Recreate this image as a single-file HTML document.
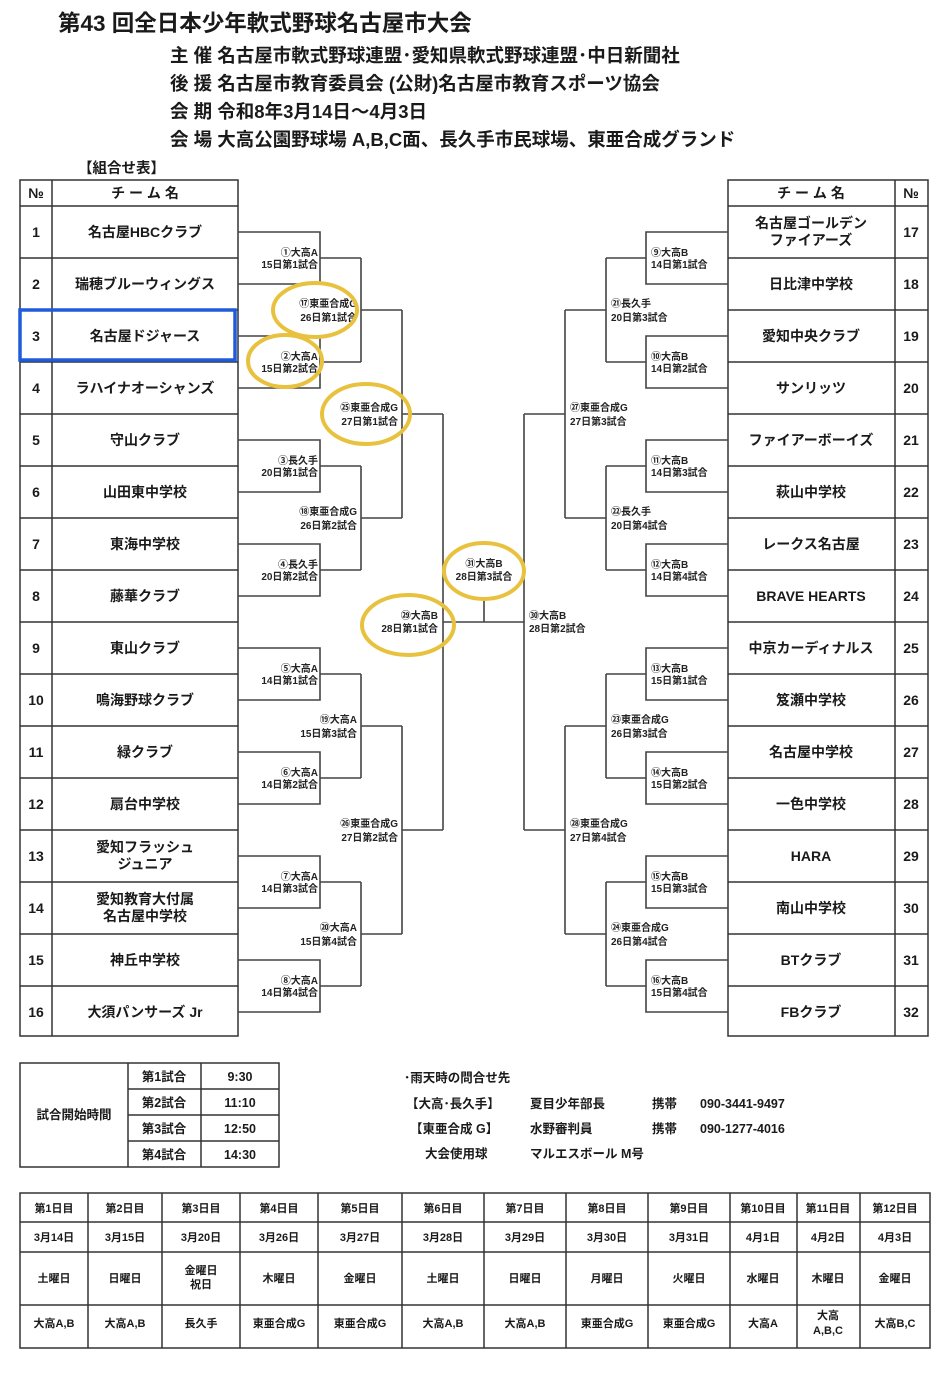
<!DOCTYPE html>
<html><head><meta charset="utf-8">
<style>
html,body{margin:0;padding:0;background:#fff;}
svg{display:block;font-family:"Liberation Sans","Noto Sans CJK JP",sans-serif;font-weight:bold;}
</style></head>
<body>
<svg width="941" height="1375" viewBox="0 0 941 1375" xmlns="http://www.w3.org/2000/svg">
<rect width="941" height="1375" fill="#fff"/>
<g fill="#1a1a1a">
<text x="58" y="31" font-size="22.5">第43 回全日本少年軟式野球名古屋市大会</text>
<text x="170" y="62" font-size="18.5">主 催  名古屋市軟式野球連盟･愛知県軟式野球連盟･中日新聞社</text>
<text x="170" y="90" font-size="18.5">後 援  名古屋市教育委員会  (公財)名古屋市教育スポーツ協会</text>
<text x="170" y="118" font-size="18.5">会 期  令和8年3月14日～4月3日</text>
<text x="170" y="146" font-size="18.5">会 場  大高公園野球場 A,B,C面、長久手市民球場、東亜合成グランド</text>
<text x="78" y="173" font-size="14.5">【組合せ表】</text>
</g>

<!-- left table -->
<g stroke="#333" stroke-width="1.5" fill="none">
<rect x="20" y="180" width="218" height="856"/>
<line x1="52" y1="180" x2="52" y2="1036"/>
<line x1="20" y1="206" x2="238" y2="206"/>
<line x1="20" y1="258" x2="238" y2="258"/><line x1="20" y1="310" x2="238" y2="310"/>
<line x1="20" y1="362" x2="238" y2="362"/><line x1="20" y1="414" x2="238" y2="414"/>
<line x1="20" y1="466" x2="238" y2="466"/><line x1="20" y1="518" x2="238" y2="518"/>
<line x1="20" y1="570" x2="238" y2="570"/><line x1="20" y1="622" x2="238" y2="622"/>
<line x1="20" y1="674" x2="238" y2="674"/><line x1="20" y1="726" x2="238" y2="726"/>
<line x1="20" y1="778" x2="238" y2="778"/><line x1="20" y1="830" x2="238" y2="830"/>
<line x1="20" y1="882" x2="238" y2="882"/><line x1="20" y1="934" x2="238" y2="934"/>
<line x1="20" y1="986" x2="238" y2="986"/>
<!-- right table -->
<rect x="728" y="180" width="200" height="856"/>
<line x1="895" y1="180" x2="895" y2="1036"/>
<line x1="728" y1="206" x2="928" y2="206"/>
<line x1="728" y1="258" x2="928" y2="258"/><line x1="728" y1="310" x2="928" y2="310"/>
<line x1="728" y1="362" x2="928" y2="362"/><line x1="728" y1="414" x2="928" y2="414"/>
<line x1="728" y1="466" x2="928" y2="466"/><line x1="728" y1="518" x2="928" y2="518"/>
<line x1="728" y1="570" x2="928" y2="570"/><line x1="728" y1="622" x2="928" y2="622"/>
<line x1="728" y1="674" x2="928" y2="674"/><line x1="728" y1="726" x2="928" y2="726"/>
<line x1="728" y1="778" x2="928" y2="778"/><line x1="728" y1="830" x2="928" y2="830"/>
<line x1="728" y1="882" x2="928" y2="882"/><line x1="728" y1="934" x2="928" y2="934"/>
<line x1="728" y1="986" x2="928" y2="986"/>
</g>

<!-- bracket lines -->
<g stroke="#444" stroke-width="1.6" fill="none">
<path d="M238 232H320V284H238M320 258H361
M238 336H320V388H238M320 362H361
M238 440H320V492H238M320 466H361
M238 544H320V596H238M320 570H361
M238 648H320V700H238M320 674H361
M238 752H320V804H238M320 778H361
M238 856H320V908H238M320 882H361
M238 960H320V1012H238M320 986H361
M361 258V362M361 310H402
M361 466V570M361 518H402
M361 674V778M361 726H402
M361 882V986M361 934H402
M402 310V518M402 414H443
M402 726V934M402 830H443
M443 414V830M443 622H524M484 622V597
M728 232H646V284H728M646 258H606
M728 336H646V388H728M646 362H606
M728 440H646V492H728M646 466H606
M728 544H646V596H728M646 570H606
M728 648H646V700H728M646 674H606
M728 752H646V804H728M646 778H606
M728 856H646V908H728M646 882H606
M728 960H646V1012H728M646 986H606
M606 258V362M606 310H565
M606 466V570M606 518H565
M606 674V778M606 726H565
M606 882V986M606 934H565
M565 310V518M565 414H524
M565 726V934M565 830H524
M524 414V830"/>
</g>

<!-- table texts -->
<g fill="#1a1a1a" font-size="14" text-anchor="middle">
<text x="36" y="198">№</text><text x="145" y="198">チ ー ム 名</text>
<text x="811" y="198">チ ー ム 名</text><text x="911" y="198">№</text>
<text x="36" y="237">1</text><text x="145" y="237">名古屋HBCクラブ</text>
<text x="36" y="289">2</text><text x="145" y="289">瑞穂ブルーウィングス</text>
<text x="36" y="341">3</text><text x="145" y="341">名古屋ドジャース</text>
<text x="36" y="393">4</text><text x="145" y="393">ラハイナオーシャンズ</text>
<text x="36" y="445">5</text><text x="145" y="445">守山クラブ</text>
<text x="36" y="497">6</text><text x="145" y="497">山田東中学校</text>
<text x="36" y="549">7</text><text x="145" y="549">東海中学校</text>
<text x="36" y="601">8</text><text x="145" y="601">藤華クラブ</text>
<text x="36" y="653">9</text><text x="145" y="653">東山クラブ</text>
<text x="36" y="705">10</text><text x="145" y="705">鳴海野球クラブ</text>
<text x="36" y="757">11</text><text x="145" y="757">緑クラブ</text>
<text x="36" y="809">12</text><text x="145" y="809">扇台中学校</text>
<text x="36" y="861">13</text><text x="145" y="852">愛知フラッシュ</text><text x="145" y="869">ジュニア</text>
<text x="36" y="913">14</text><text x="145" y="904">愛知教育大付属</text><text x="145" y="921">名古屋中学校</text>
<text x="36" y="965">15</text><text x="145" y="965">神丘中学校</text>
<text x="36" y="1017">16</text><text x="145" y="1017">大須パンサーズ Jr</text>

<text x="811" y="228">名古屋ゴールデン</text><text x="811" y="245">ファイアーズ</text><text x="911" y="237">17</text>
<text x="811" y="289">日比津中学校</text><text x="911" y="289">18</text>
<text x="811" y="341">愛知中央クラブ</text><text x="911" y="341">19</text>
<text x="811" y="393">サンリッツ</text><text x="911" y="393">20</text>
<text x="811" y="445">ファイアーボーイズ</text><text x="911" y="445">21</text>
<text x="811" y="497">萩山中学校</text><text x="911" y="497">22</text>
<text x="811" y="549">レークス名古屋</text><text x="911" y="549">23</text>
<text x="811" y="601">BRAVE HEARTS</text><text x="911" y="601">24</text>
<text x="811" y="653">中京カーディナルス</text><text x="911" y="653">25</text>
<text x="811" y="705">笈瀬中学校</text><text x="911" y="705">26</text>
<text x="811" y="757">名古屋中学校</text><text x="911" y="757">27</text>
<text x="811" y="809">一色中学校</text><text x="911" y="809">28</text>
<text x="811" y="861">HARA</text><text x="911" y="861">29</text>
<text x="811" y="913">南山中学校</text><text x="911" y="913">30</text>
<text x="811" y="965">BTクラブ</text><text x="911" y="965">31</text>
<text x="811" y="1017">FBクラブ</text><text x="911" y="1017">32</text>
</g>

<!-- match labels left -->
<g fill="#222" font-size="10" text-anchor="end">
<text x="318" y="256">①大高A</text><text x="318" y="268">15日第1試合</text>
<text x="318" y="360">②大高A</text><text x="318" y="372">15日第2試合</text>
<text x="318" y="464">③長久手</text><text x="318" y="476">20日第1試合</text>
<text x="318" y="568">④長久手</text><text x="318" y="580">20日第2試合</text>
<text x="318" y="672">⑤大高A</text><text x="318" y="684">14日第1試合</text>
<text x="318" y="776">⑥大高A</text><text x="318" y="788">14日第2試合</text>
<text x="318" y="880">⑦大高A</text><text x="318" y="892">14日第3試合</text>
<text x="318" y="984">⑧大高A</text><text x="318" y="996">14日第4試合</text>
<text x="357" y="307">⑰東亜合成G</text><text x="357" y="321">26日第1試合</text>
<text x="357" y="515">⑱東亜合成G</text><text x="357" y="529">26日第2試合</text>
<text x="357" y="723">⑲大高A</text><text x="357" y="737">15日第3試合</text>
<text x="357" y="931">⑳大高A</text><text x="357" y="945">15日第4試合</text>
<text x="398" y="411">㉕東亜合成G</text><text x="398" y="425">27日第1試合</text>
<text x="398" y="827">㉖東亜合成G</text><text x="398" y="841">27日第2試合</text>
<text x="438" y="619">㉙大高B</text><text x="438" y="632">28日第1試合</text>
</g>
<g fill="#222" font-size="10" text-anchor="middle">
<text x="484" y="567">㉛大高B</text><text x="484" y="580">28日第3試合</text>
</g>
<!-- match labels right -->
<g fill="#222" font-size="10" text-anchor="start">
<text x="651" y="256">⑨大高B</text><text x="651" y="268">14日第1試合</text>
<text x="651" y="360">⑩大高B</text><text x="651" y="372">14日第2試合</text>
<text x="651" y="464">⑪大高B</text><text x="651" y="476">14日第3試合</text>
<text x="651" y="568">⑫大高B</text><text x="651" y="580">14日第4試合</text>
<text x="651" y="672">⑬大高B</text><text x="651" y="684">15日第1試合</text>
<text x="651" y="776">⑭大高B</text><text x="651" y="788">15日第2試合</text>
<text x="651" y="880">⑮大高B</text><text x="651" y="892">15日第3試合</text>
<text x="651" y="984">⑯大高B</text><text x="651" y="996">15日第4試合</text>
<text x="611" y="307">㉑長久手</text><text x="611" y="321">20日第3試合</text>
<text x="611" y="515">㉒長久手</text><text x="611" y="529">20日第4試合</text>
<text x="611" y="723">㉓東亜合成G</text><text x="611" y="737">26日第3試合</text>
<text x="611" y="931">㉔東亜合成G</text><text x="611" y="945">26日第4試合</text>
<text x="570" y="411">㉗東亜合成G</text><text x="570" y="425">27日第3試合</text>
<text x="570" y="827">㉘東亜合成G</text><text x="570" y="841">27日第4試合</text>
<text x="529" y="619">㉚大高B</text><text x="529" y="632">28日第2試合</text>
</g>

<!-- highlights -->
<rect x="20" y="310" width="215" height="50" fill="none" stroke="#1f5bdc" stroke-width="3.5"/>
<g fill="none" stroke="#e8c23e" stroke-width="4">
<ellipse cx="315" cy="310" rx="42" ry="27"/>
<ellipse cx="285" cy="361" rx="37" ry="26"/>
<ellipse cx="366" cy="414" rx="44" ry="30"/>
<ellipse cx="484" cy="571" rx="40" ry="28"/>
<ellipse cx="408" cy="625" rx="46" ry="30"/>
</g>

<!-- time table -->
<g stroke="#333" stroke-width="1.5" fill="none">
<rect x="20" y="1063" width="259" height="104"/>
<line x1="128" y1="1063" x2="128" y2="1167"/>
<line x1="201" y1="1063" x2="201" y2="1167"/>
<line x1="128" y1="1089" x2="279" y2="1089"/>
<line x1="128" y1="1115" x2="279" y2="1115"/>
<line x1="128" y1="1141" x2="279" y2="1141"/>
</g>
<g fill="#1a1a1a" font-size="12.5">
<text x="74" y="1119" text-anchor="middle">試合開始時間</text>
<text x="164" y="1081" text-anchor="middle">第1試合</text><text x="240" y="1081" text-anchor="middle">9:30</text>
<text x="164" y="1107" text-anchor="middle">第2試合</text><text x="240" y="1107" text-anchor="middle">11:10</text>
<text x="164" y="1133" text-anchor="middle">第3試合</text><text x="240" y="1133" text-anchor="middle">12:50</text>
<text x="164" y="1159" text-anchor="middle">第4試合</text><text x="240" y="1159" text-anchor="middle">14:30</text>
<text x="404" y="1082">･雨天時の問合せ先</text>
<text x="406" y="1108">【大高･長久手】</text><text x="530" y="1108">夏目少年部長</text><text x="652" y="1108">携帯</text><text x="700" y="1108">090-3441-9497</text>
<text x="410" y="1133">【東亜合成 G】</text><text x="530" y="1133">水野審判員</text><text x="652" y="1133">携帯</text><text x="700" y="1133">090-1277-4016</text>
<text x="425" y="1158">大会使用球</text><text x="530" y="1158">マルエスボール  M号</text>
</g>

<!-- schedule table -->
<g stroke="#333" stroke-width="1.5" fill="none">
<rect x="20" y="1193" width="910" height="155"/>
<line x1="20" y1="1222" x2="930" y2="1222"/>
<line x1="20" y1="1252" x2="930" y2="1252"/>
<line x1="20" y1="1305" x2="930" y2="1305"/>
<line x1="88" y1="1193" x2="88" y2="1348"/><line x1="162" y1="1193" x2="162" y2="1348"/>
<line x1="240" y1="1193" x2="240" y2="1348"/><line x1="318" y1="1193" x2="318" y2="1348"/>
<line x1="402" y1="1193" x2="402" y2="1348"/><line x1="484" y1="1193" x2="484" y2="1348"/>
<line x1="566" y1="1193" x2="566" y2="1348"/><line x1="648" y1="1193" x2="648" y2="1348"/>
<line x1="730" y1="1193" x2="730" y2="1348"/><line x1="797" y1="1193" x2="797" y2="1348"/>
<line x1="860" y1="1193" x2="860" y2="1348"/>
</g>
<g fill="#1a1a1a" font-size="11" text-anchor="middle">
<text x="54" y="1212">第1日目</text><text x="125" y="1212">第2日目</text><text x="201" y="1212">第3日目</text><text x="279" y="1212">第4日目</text><text x="360" y="1212">第5日目</text><text x="443" y="1212">第6日目</text><text x="525" y="1212">第7日目</text><text x="607" y="1212">第8日目</text><text x="689" y="1212">第9日目</text><text x="763" y="1212">第10日目</text><text x="828" y="1212">第11日目</text><text x="895" y="1212">第12日目</text>
<text x="54" y="1241">3月14日</text><text x="125" y="1241">3月15日</text><text x="201" y="1241">3月20日</text><text x="279" y="1241">3月26日</text><text x="360" y="1241">3月27日</text><text x="443" y="1241">3月28日</text><text x="525" y="1241">3月29日</text><text x="607" y="1241">3月30日</text><text x="689" y="1241">3月31日</text><text x="763" y="1241">4月1日</text><text x="828" y="1241">4月2日</text><text x="895" y="1241">4月3日</text>
<text x="54" y="1282">土曜日</text><text x="125" y="1282">日曜日</text><text x="201" y="1274">金曜日</text><text x="201" y="1288">祝日</text><text x="279" y="1282">木曜日</text><text x="360" y="1282">金曜日</text><text x="443" y="1282">土曜日</text><text x="525" y="1282">日曜日</text><text x="607" y="1282">月曜日</text><text x="689" y="1282">火曜日</text><text x="763" y="1282">水曜日</text><text x="828" y="1282">木曜日</text><text x="895" y="1282">金曜日</text>
<text x="54" y="1327">大高A,B</text><text x="125" y="1327">大高A,B</text><text x="201" y="1327">長久手</text><text x="279" y="1327">東亜合成G</text><text x="360" y="1327">東亜合成G</text><text x="443" y="1327">大高A,B</text><text x="525" y="1327">大高A,B</text><text x="607" y="1327">東亜合成G</text><text x="689" y="1327">東亜合成G</text><text x="763" y="1327">大高A</text><text x="828" y="1319">大高</text><text x="828" y="1334">A,B,C</text><text x="895" y="1327">大高B,C</text>
</g>
</svg>
</body></html>
